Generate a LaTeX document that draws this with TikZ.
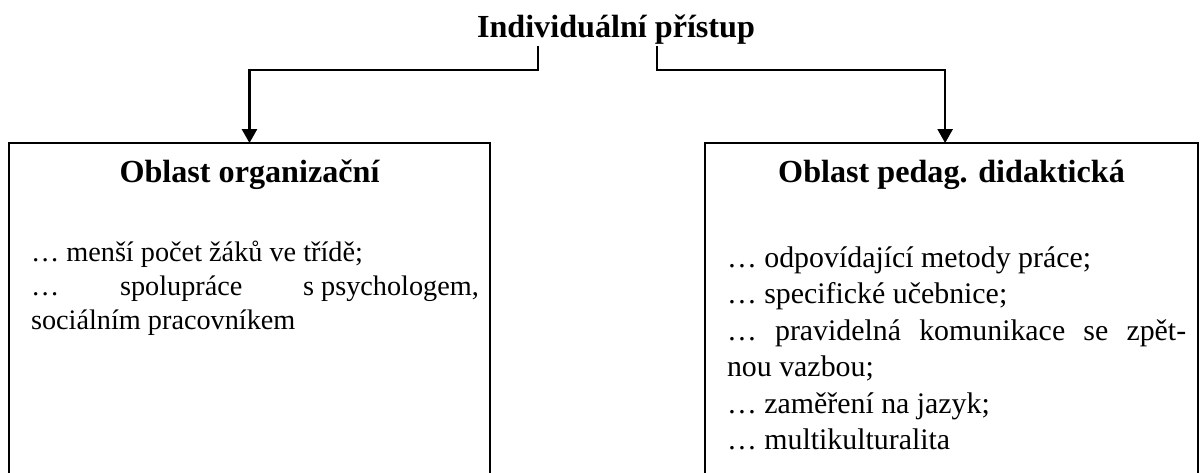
\documentclass[tikz,border=0pt]{standalone}
\usepackage{fontspec}
\setmainfont{Liberation Serif}
\usepackage{tikz}
\usetikzlibrary{arrows.meta,positioning}
\setlength{\parindent}{0pt}
\setlength{\parskip}{0pt}
\tolerance=10000
\hbadness=10000

\begin{document}
\begin{tikzpicture}[x=0.4354pt, y=-0.4354pt, ->, >={Triangle[length=6pt, width=6.5pt]}, line width=1pt]
      \tikzstyle{box}  = [rectangle, draw, anchor=north west, outer sep=0, minimum height=157pt]
      \tikzstyle{head} = [font=\fontsize{14}{16}\selectfont\bfseries, anchor=base, inner sep=0]
      \tikzstyle{list} = [font=\fontsize{13}{15.9}\selectfont, align=justify, inner sep=0]

      \useasboundingbox (0,0) rectangle (1200,473);
      \clip (0,0) rectangle (1200,473);

      \node[head]                    (ip)   at (616,38)  {Individuální přístup};
      \node[box, minimum width=209.4pt] (org)  at (9,143)   {};
      \node[box, minimum width=214.7pt] (ped)  at (705,143) {};
      \node[head] (orgh) at ([yshift=-17.4pt]org.north) {Oblast organizační};
      \node[head] (pedh) at ([yshift=-17.4pt]ped.north) {Oblast pedag. didaktická};

      \node[list, font=\fontsize{12.3}{14.8}\selectfont, text width=195pt,
            below right=40.6pt and 9.1pt of org.north west] (orgl)
        {\strut … menší počet žáků ve třídě;\par
         … spolupráce s\kern.25em psychologem,\linebreak sociálním pracovníkem};
      \node[list, text width=199.9pt, below right=42.4pt and 9.1pt of ped.north west] (pedl)
        {\strut … odpovídající metody práce;\par
         … specifické učebnice;\par
         … pravidelná komunikace se zpět-\linebreak nou vazbou;\par
         … zaměření na jazyk;\par
         … multikulturalita};

      \coordinate (ls) at (538,46);
      \coordinate (rs) at (657,46);
      \draw (ls) -- ++(0,24) -| (org.north);
      \draw (rs) -- ++(0,24) -| ([xshift=-2.8pt]ped.north);
    \end{tikzpicture}
\end{document}
